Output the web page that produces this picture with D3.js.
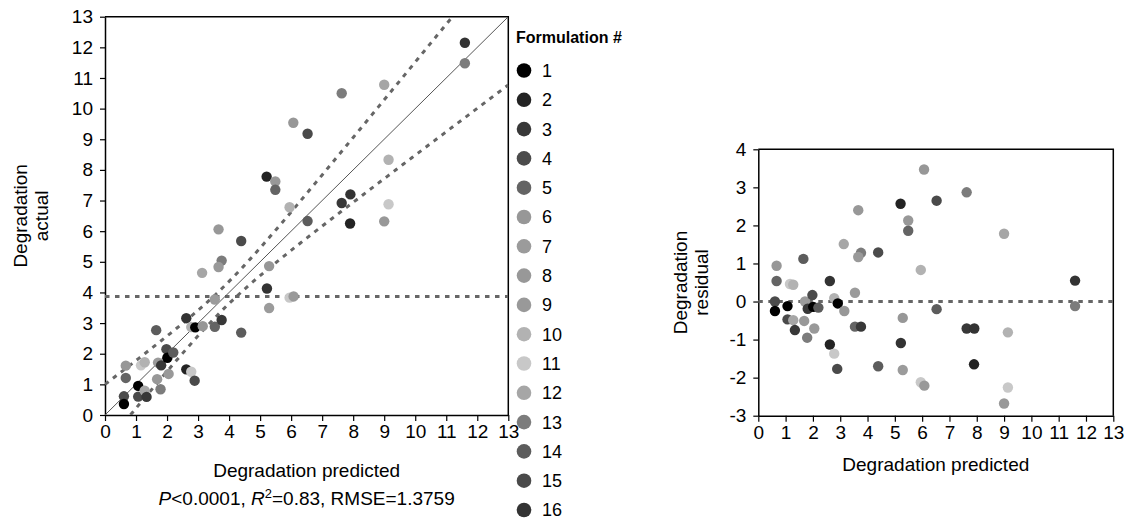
<!DOCTYPE html>
<html>
<head>
<meta charset="utf-8">
<script src="https://cdn.jsdelivr.net/npm/d3@7"></script>
<style>
  body { margin: 0; background: #fff; }
  svg text { font-family: "Liberation Sans", Arial, sans-serif; fill: #000; }
</style>
</head>
<body>
<div id="chart"></div>
<script>
// values
var predicted = [0.61, 0.61, 0.67, 0.67, 1.07, 1.07, 1.16, 1.28, 1.28, 1.34,
  1.65, 1.71, 1.68, 1.79, 1.81, 1.98, 2.01, 2.20, 2.05, 2.62,
  2.78, 2.91, 3.15, 2.62, 2.78, 2.89, 3.13, 3.54, 3.54, 3.76,
  3.66, 3.76, 3.66, 4.39, 4.39, 5.21, 5.22, 5.29, 5.29, 5.49,
  5.49, 5.95, 5.95, 6.08, 6.07, 6.53, 6.53, 7.63, 7.63, 7.91,
  7.90, 9.00, 9.00, 9.14, 9.14, 11.60, 11.60];
var residual = [0.00, -0.25, 0.54, 0.94, -0.12, -0.47, 0.46, 0.44, -0.49, -0.75,
  1.12, 0.00, -0.51, -0.95, -0.19, 0.17, -0.14, -0.16, -0.71, 0.54,
  0.09, -0.05, -0.25, -1.13, -1.37, -1.77, 1.51, 0.23, -0.66, -0.66,
  2.40, 1.28, 1.17, 1.29, -1.70, 2.57, -1.09, -0.43, -1.80, 2.13,
  1.86, 0.83, -2.12, -2.21, 3.47, 2.65, -0.20, 2.87, -0.71, -0.71,
  -1.65, 1.78, -2.68, -0.81, -2.26, 0.55, -0.12];
var formulation = [4, 1, 5, 6, 1, 15, 11, 10, 12, 3,
  14, 7, 8, 13, 3, 4, 1, 14, 9, 16,
  10, 1, 6, 2, 11, 15, 12, 7, 5, 3,
  8, 13, 9, 4, 14, 2, 16, 6, 7, 8,
  5, 10, 11, 9, 6, 15, 14, 13, 3, 16,
  2, 12, 8, 10, 11, 16, 13];

var formulations = d3.range(1, 17);
var formulationColors = ["#000000", "#232323", "#383838", "#4b4b4b", "#646464", "#979797",
  "#9b9b9b", "#989898", "#999999", "#b2b2b2", "#c8c8c8", "#a6a6a6",
  "#7c7c7c", "#5c5c5c", "#4a4a4a", "#333333"];

var axisTicks = d3.range(0, 14);
var residualTicks = d3.range(-3, 5);
var meanActual = 3.87;
// confidence curve of the fit: half width = sqrt(a + b*(x-mean)^2)
var curveA = 0.13, curveB = 0.058;

var points = predicted.map(function (p, i) {
  return { pred: p, resid: residual[i], actual: p + residual[i], f: formulation[i] };
});

var fs = 19;

var svg = d3.select("#chart").append("svg")
  .attr("width", 1124)
  .attr("height", 522);

var color = d3.scaleOrdinal().domain(formulations).range(formulationColors);

///////////////////////////////////////////////////////////////////////////
// left: actual by predicted
var xL = d3.scaleLinear().domain([0, 13]).range([105, 508.3]);
var yL = d3.scaleLinear().domain([0, 13]).range([415, 16.7]);

svg.append("clipPath").attr("id", "clipL")
  .append("rect")
  .attr("x", xL(0)).attr("y", yL(13))
  .attr("width", xL(13) - xL(0)).attr("height", yL(0) - yL(13));

var left = svg.append("g");

left.append("g")
  .attr("transform", "translate(0," + yL(0) + ")")
  .call(d3.axisBottom(xL).tickValues(axisTicks).tickSize(6).tickPadding(4).tickSizeOuter(0))
  .call(styleAxis);

left.append("g")
  .attr("transform", "translate(" + xL(0) + ",0)")
  .call(d3.axisLeft(yL).tickValues(axisTicks).tickSize(5).tickPadding(7).tickSizeOuter(0))
  .call(styleAxis);

// frame top and right
left.append("path")
  .attr("d", "M" + xL(0) + "," + yL(13) + "H" + xL(13) + "V" + yL(0))
  .attr("fill", "none").attr("stroke", "#000").attr("stroke-width", 1.5);

var lines = left.append("g").attr("clip-path", "url(#clipL)");

lines.append("line")
  .attr("x1", xL(0)).attr("x2", xL(13))
  .attr("y1", yL(meanActual)).attr("y2", yL(meanActual))
  .attr("stroke", "#666").attr("stroke-width", 3).attr("stroke-dasharray", "4.5,5.5");

lines.append("line")
  .attr("x1", xL(0)).attr("y1", yL(0))
  .attr("x2", xL(13)).attr("y2", yL(13))
  .attr("stroke", "#555").attr("stroke-width", 1);

var xs = d3.range(0, 13.01, 0.1);
function halfWidth(x) { return Math.sqrt(curveA + curveB * (x - meanActual) * (x - meanActual)); }
[1, -1].forEach(function (sign) {
  lines.append("path")
    .datum(xs)
    .attr("d", d3.line()
      .x(function (d) { return xL(d); })
      .y(function (d) { return yL(d + sign * halfWidth(d)); }))
    .attr("fill", "none")
    .attr("stroke", "#666").attr("stroke-width", 3).attr("stroke-dasharray", "4.5,5.5");
});

left.append("g").selectAll("circle")
  .data(points)
  .enter()
  .append("circle")
  .attr("cx", function (d) { return xL(d.pred); })
  .attr("cy", function (d) { return yL(d.actual); })
  .attr("r", 5.2)
  .attr("fill", function (d) { return color(d.f); });

left.append("text")
  .attr("x", (xL(0) + xL(13)) / 2).attr("y", 477)
  .attr("text-anchor", "middle").style("font-size", fs + "px")
  .text("Degradation predicted");

var sub = left.append("text")
  .attr("x", (xL(0) + xL(13)) / 2).attr("y", 505)
  .attr("text-anchor", "middle").style("font-size", fs + "px");
sub.append("tspan").style("font-style", "italic").text("P");
sub.append("tspan").text("<0.0001, ");
sub.append("tspan").style("font-style", "italic").text("R");
sub.append("tspan").attr("dy", -7).style("font-size", (fs * 0.68) + "px").text("2");
sub.append("tspan").attr("dy", 7).text("=0.83, RMSE=1.3759");

yTitle(left, 20, 41, (yL(0) + yL(13)) / 2, "actual");

///////////////////////////////////////////////////////////////////////////
// legend
var legend = svg.append("g");
legend.append("text")
  .attr("x", 516).attr("y", 43)
  .style("font-size", "16px").style("font-weight", "bold")
  .text("Formulation #");

var item = legend.selectAll("g.item")
  .data(formulations)
  .enter()
  .append("g")
  .attr("class", "item")
  .attr("transform", function (d, i) { return "translate(524," + (70.5 + i * 29.3) + ")"; });
item.append("circle").attr("r", 7.3).attr("fill", function (d) { return color(d); });
item.append("text")
  .attr("x", 18).attr("dy", "0.36em")
  .style("font-size", "18px")
  .text(function (d) { return d; });

///////////////////////////////////////////////////////////////////////////
// right: residual by predicted
var xR = d3.scaleLinear().domain([0, 13]).range([758.3, 1113.3]);
var yR = d3.scaleLinear().domain([-3, 4]).range([415.7, 149.3]);

var right = svg.append("g");

right.append("g")
  .attr("transform", "translate(0," + yR(-3) + ")")
  .call(d3.axisBottom(xR).tickValues(axisTicks).tickSize(6).tickPadding(4).tickSizeOuter(0))
  .call(styleAxis);

right.append("g")
  .attr("transform", "translate(" + xR(0) + ",0)")
  .call(d3.axisLeft(yR).tickValues(residualTicks).tickSize(5).tickPadding(7).tickSizeOuter(0)
    .tickFormat(function (d) { return String(d); }))
  .call(styleAxis);

right.append("path")
  .attr("d", "M" + xR(0) + "," + yR(4) + "H" + xR(13) + "V" + yR(-3))
  .attr("fill", "none").attr("stroke", "#000").attr("stroke-width", 1.5);

right.append("line")
  .attr("x1", xR(0)).attr("x2", xR(13))
  .attr("y1", yR(0)).attr("y2", yR(0))
  .attr("stroke", "#666").attr("stroke-width", 3).attr("stroke-dasharray", "4.5,5.5");

right.append("g").selectAll("circle")
  .data(points)
  .enter()
  .append("circle")
  .attr("cx", function (d) { return xR(d.pred); })
  .attr("cy", function (d) { return yR(d.resid); })
  .attr("r", 5.2)
  .attr("fill", function (d) { return color(d.f); });

right.append("text")
  .attr("x", (xR(0) + xR(13)) / 2).attr("y", 471)
  .attr("text-anchor", "middle").style("font-size", fs + "px")
  .text("Degradation predicted");

yTitle(right, 680, 701, (yR(-3) + yR(4)) / 2, "residual");

///////////////////////////////////////////////////////////////////////////
function styleAxis(g) {
  g.select(".domain").attr("stroke", "#000").attr("stroke-width", 1.5);
  g.selectAll(".tick line").attr("stroke", "#000").attr("stroke-width", 1.2);
  g.selectAll(".tick text").style("font-size", fs + "px").attr("fill", "#000");
}

function yTitle(g, x1, x2, cy, second) {
  [["Degradation", x1], [second, x2]].forEach(function (t) {
    g.append("text")
      .attr("transform", "translate(" + t[1] + "," + cy + ") rotate(-90)")
      .attr("text-anchor", "middle").attr("dy", "0.35em")
      .style("font-size", fs + "px")
      .text(t[0]);
  });
}
</script>
</body>
</html>
